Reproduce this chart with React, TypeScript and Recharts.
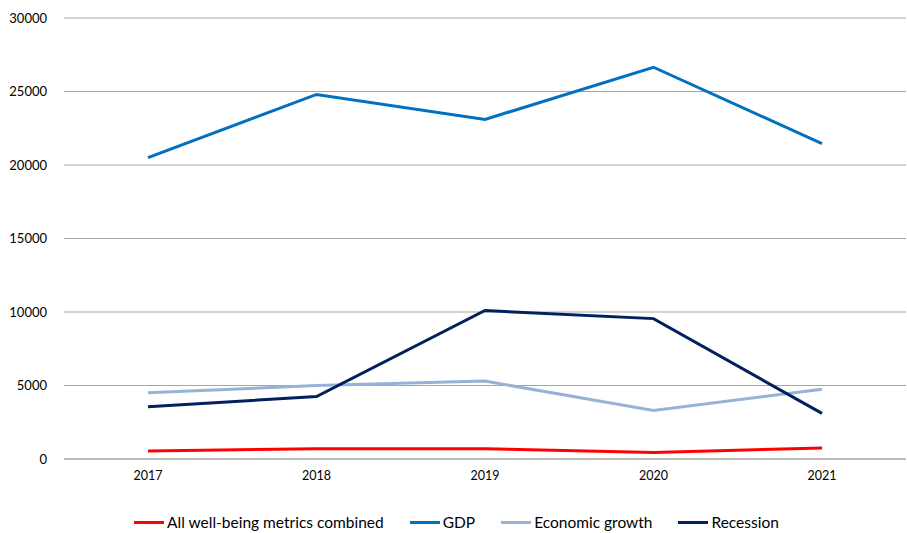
import React from 'react';
import { LineChart, Line, XAxis, YAxis, CartesianGrid, Legend } from 'recharts';

const years = ['2017', '2018', '2019', '2020', '2021'];
const allMetrics = [550, 700, 700, 450, 750];
const gdp = [20500, 24800, 23100, 26650, 21450];
const economicGrowth = [4500, 5000, 5300, 3300, 4750];
const recession = [3550, 4250, 10100, 9550, 3100];
const yTicks = [0, 5000, 10000, 15000, 20000, 25000, 30000];

const seriesInfo = [
  { key: 'all', name: 'All well-being metrics combined', color: '#ff0000' },
  { key: 'gdp', name: 'GDP', color: '#0070c0' },
  { key: 'growth', name: 'Economic growth', color: '#95b3d7' },
  { key: 'recession', name: 'Recession', color: '#002060' },
];

const data = years.map((y, i) => ({
  year: y,
  all: allMetrics[i],
  gdp: gdp[i],
  growth: economicGrowth[i],
  recession: recession[i],
}));

const FONT = 'Lato, "Open Sans", sans-serif';

const LegendContent = () => (
  <div style={{ display: 'flex', justifyContent: 'center', alignItems: 'flex-start', paddingLeft: 7, paddingTop: 24, boxSizing: 'border-box', fontFamily: FONT, fontSize: 15.5, lineHeight: '18px', color: '#000', height: 44 }}>
    {seriesInfo.map((s, i) => (
      <div key={s.key} style={{ display: 'flex', alignItems: 'center', marginLeft: i === 0 ? 0 : 26 }}>
        <div style={{ width: 30, height: 3, background: s.color, marginRight: 3 }} />
        <span>{s.name}</span>
      </div>
    ))}
  </div>
);

export default function App() {
  return (
    <div style={{ position: 'absolute', left: 0, top: 0, background: '#fff' }}>
      <LineChart width={907} height={533} data={data} margin={{ top: 18, right: 1, left: 0, bottom: 0 }}>
        <CartesianGrid horizontal vertical={false} stroke="#a6a6a6" strokeWidth={1} />
        <XAxis dataKey="year" axisLine={{ stroke: '#a6a6a6' }} tickLine={false} tickSize={0} tickMargin={12} height={30}
          padding={{ left: 84, right: 84 }}
          tick={{ fill: '#000', fontSize: 12.5, fontFamily: FONT }} />
        <YAxis domain={[0, 30000]} ticks={yTicks} axisLine={false} tickLine={false} tickSize={0} tickMargin={17} width={64}
          tick={{ fill: '#000', fontSize: 13, fontFamily: FONT }} />
        <Legend verticalAlign="bottom" height={44} content={<LegendContent />} />
        <Line type="linear" dataKey="all" name="All well-being metrics combined" stroke="#ff0000" strokeWidth={3} dot={false} isAnimationActive={false} />
        <Line type="linear" dataKey="gdp" name="GDP" stroke="#0070c0" strokeWidth={3} dot={false} isAnimationActive={false} />
        <Line type="linear" dataKey="growth" name="Economic growth" stroke="#95b3d7" strokeWidth={3} dot={false} isAnimationActive={false} />
        <Line type="linear" dataKey="recession" name="Recession" stroke="#002060" strokeWidth={3} dot={false} isAnimationActive={false} />
      </LineChart>
    </div>
  );
}
